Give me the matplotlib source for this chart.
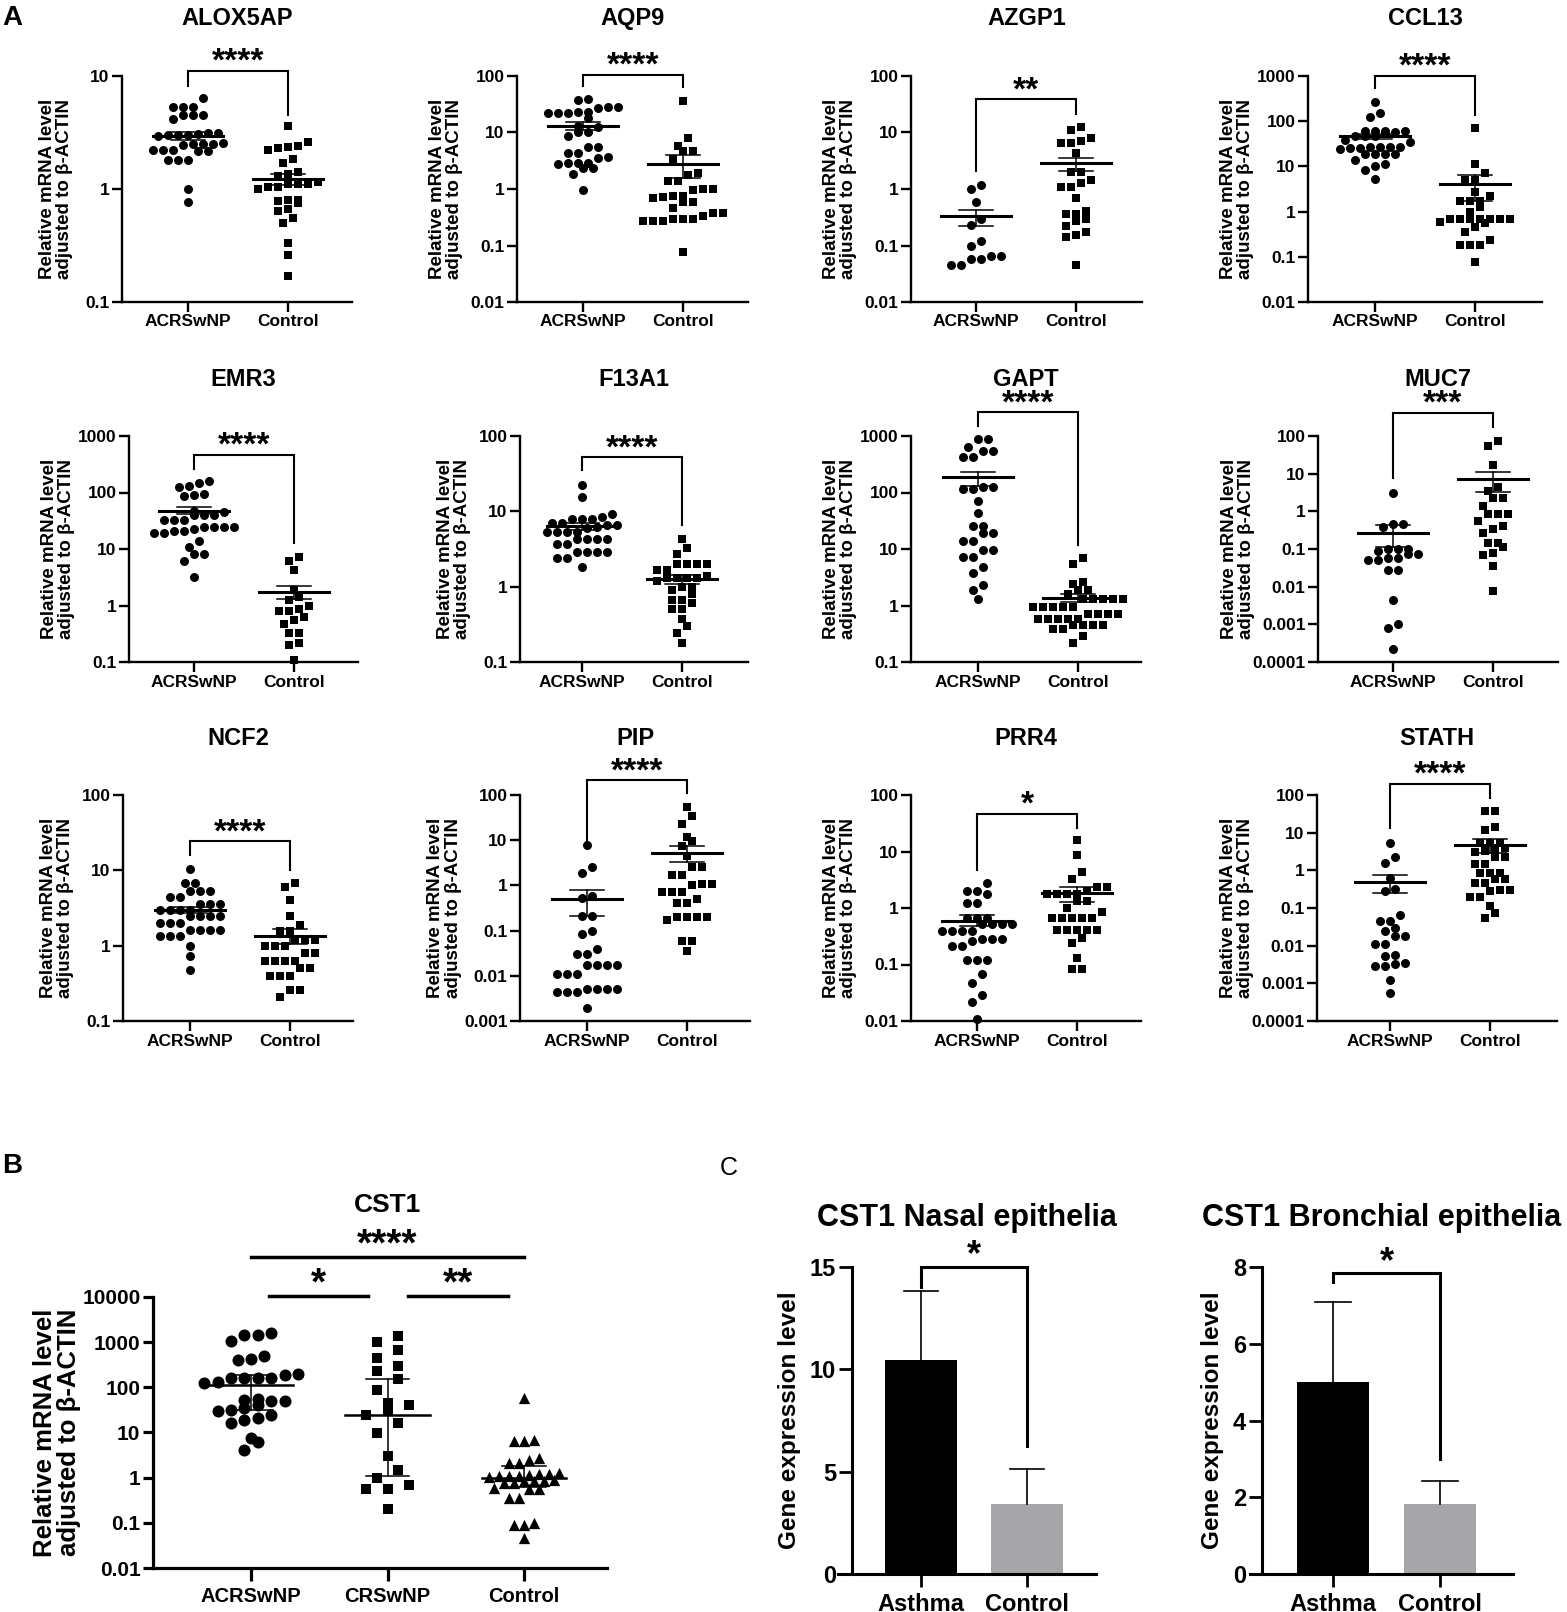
import numpy as np
import matplotlib
matplotlib.use("Agg")
import matplotlib.pyplot as plt
from matplotlib.ticker import FixedLocator, NullLocator
from matplotlib.transforms import blended_transform_factory

plt.rcParams["font.family"] = ["Liberation Sans", "DejaVu Sans"]
plt.rcParams["font.weight"] = "bold"

# -----------------------------
# Data
# -----------------------------
groups_a = ["ACRSwNP", "Control"]

alox5ap_acrs = [6.35, 5.3, 5.3, 5.3, 4.5, 4.5, 4.5, 4.2, 3.1, 3.0, 3.0, 3.05, 2.95, 3.0, 3.1,
                2.5, 2.5, 2.55, 2.5, 2.45, 2.2, 2.15, 2.2, 2.2, 2.15, 1.8, 1.8, 1.8, 1.0, 0.77]
alox5ap_ctrl = [3.6, 2.6, 2.4, 2.35, 2.3, 2.2, 1.85, 1.7, 1.4, 1.35, 1.3, 1.15, 1.1, 1.1, 1.05,
                1.05, 1.1, 1.0, 0.8, 0.8, 0.78, 0.75, 0.66, 0.64, 0.55, 0.5, 0.33, 0.26, 0.17]
aqp9_acrs = [38.7, 37, 28.7, 28, 27, 22.8, 22.8, 22.5, 22.5, 22, 17.9, 13, 12.5, 10.4, 10.2,
             8.7, 5.6, 5.5, 4.4, 4.3, 3.7, 3.6, 2.9, 2.9, 2.9, 2.8, 2.4, 2.4, 1.85, 0.96]
aqp9_ctrl = [36.6, 8.1, 5.8, 4.8, 4.7, 3.4, 1.9, 1.8, 1.4, 1.4, 1.0, 1.0, 0.95, 0.75, 0.75,
             0.72, 0.7, 0.6, 0.6, 0.46, 0.38, 0.38, 0.33, 0.3, 0.3, 0.29, 0.27, 0.27, 0.27, 0.077]
azgp1_acrs = [1.18, 1.0, 0.6, 0.3, 0.226, 0.118, 0.1, 0.065, 0.065, 0.058, 0.058, 0.046, 0.046]
azgp1_ctrl = [12.7, 11.1, 8.1, 7.0, 6.6, 6.4, 4.3, 2.0, 2.0, 1.45, 1.3, 1.1, 1.1, 0.7, 0.4,
              0.36, 0.36, 0.3, 0.27, 0.22, 0.17, 0.155, 0.14, 0.045]
ccl13_acrs = [271, 149, 127, 62, 62, 62, 60, 58, 56, 46, 46, 46, 27.5, 27.5, 27.5, 27.5, 26,
              25, 24, 18.6, 18.6, 18.6, 18.6, 14, 11.5, 10, 8.4, 5.3, 35, 38]
ccl13_ctrl = [71, 11.3, 7.0, 5.0, 5.0, 2.7, 2.2, 1.7, 1.7, 1.7, 1.25, 0.7, 0.7, 0.7, 0.7, 0.7,
              0.7, 0.7, 0.55, 0.45, 0.36, 0.23, 0.18, 0.18, 0.18, 0.077, 1.0, 0.6]
emr3_acrs = [158, 150, 132, 127, 94, 90, 85, 47, 45, 40, 40, 40, 32, 32, 32, 25, 25, 25, 25,
             23, 21, 21, 19, 19, 14, 10.9, 8, 8, 6.2, 3.2]
emr3_ctrl = [7.2, 6.1, 4.2, 1.85, 1.4, 1.25, 1.0, 0.85, 0.8, 0.8, 0.63, 0.55, 0.48, 0.32, 0.32,
             0.22, 0.2, 0.11]
f13a1_acrs = [22.6, 15.4, 9.2, 8.5, 7.9, 7.9, 7.9, 7.0, 7.0, 6.5, 6.5, 6.2, 6.0, 5.3, 5.3, 5.3,
              5.3, 4.3, 4.3, 4.3, 4.3, 3.7, 3.7, 2.85, 2.85, 2.85, 2.85, 2.4, 2.4, 1.8]
f13a1_ctrl = [4.3, 3.3, 2.7, 2.0, 2.0, 2.0, 2.0, 1.66, 1.66, 1.4, 1.3, 1.3, 1.3, 1.3, 1.2, 1.0,
              1.0, 0.9, 0.8, 0.66, 0.66, 0.6, 0.5, 0.5, 0.37, 0.3, 0.24, 0.18]
gapt_acrs = [885, 880, 630, 550, 550, 420, 420, 125, 125, 116, 116, 72, 43, 26, 26, 19, 19, 14,
             14, 9.6, 9.6, 7.2, 7.2, 4.8, 3.8, 2.3, 1.9, 1.3]
gapt_ctrl = [7.0, 5.5, 2.6, 2.4, 1.9, 1.9, 1.6, 1.3, 1.3, 1.3, 1.3, 1.3, 0.95, 0.95, 0.95, 0.95,
             0.95, 0.72, 0.72, 0.72, 0.72, 0.57, 0.57, 0.57, 0.57, 0.57, 0.46, 0.46, 0.46, 0.46,
             0.38, 0.38, 0.29, 0.22]
muc7_acrs = [3.15, 0.47, 0.45, 0.39, 0.1, 0.1, 0.1, 0.088, 0.073, 0.073, 0.057, 0.057, 0.05,
             0.05, 0.028, 0.028, 0.0045, 0.001, 0.0008, 0.00022]
muc7_ctrl = [73, 54, 17, 4.4, 3.4, 2.3, 2.2, 1.4, 0.86, 0.86, 0.86, 0.55, 0.41, 0.35, 0.27, 0.14,
             0.14, 0.11, 0.08, 0.07, 0.035, 0.0075]
ncf2_acrs = [10.4, 6.8, 6.8, 5.3, 5.3, 5.3, 4.4, 4.4, 3.6, 3.6, 3.6, 3.0, 3.0, 3.0, 3.0, 2.5, 2.5,
             2.5, 2.5, 2.0, 2.0, 2.0, 1.6, 1.6, 1.6, 1.6, 1.35, 1.35, 1.35, 1.0, 0.72, 0.48]
ncf2_ctrl = [6.8, 6.1, 4.1, 2.5, 1.9, 1.55, 1.55, 1.2, 1.2, 1.2, 0.98, 0.98, 0.98, 0.8, 0.8, 0.62,
             0.62, 0.62, 0.62, 0.5, 0.5, 0.4, 0.4, 0.4, 0.26, 0.26, 0.21]
pip_acrs = [8, 2.6, 1.9, 0.58, 0.53, 0.21, 0.21, 0.1, 0.083, 0.039, 0.03, 0.03, 0.017, 0.017,
            0.017, 0.017, 0.011, 0.011, 0.011, 0.005, 0.005, 0.005, 0.005, 0.0044, 0.0044,
            0.0044, 0.0019]
pip_ctrl = [54, 34, 23, 12, 9.5, 7.4, 4.4, 2.5, 2.5, 1.7, 1.7, 1.1, 1.1, 1.0, 0.7, 0.7, 0.7, 0.5,
            0.4, 0.4, 0.2, 0.2, 0.2, 0.2, 0.17, 0.06, 0.06, 0.036]
prr4_acrs = [2.8, 2.0, 2.0, 1.8, 1.25, 1.25, 0.67, 0.67, 0.67, 0.52, 0.52, 0.52, 0.52, 0.39, 0.39,
             0.39, 0.39, 0.26, 0.28, 0.28, 0.28, 0.21, 0.21, 0.12, 0.12, 0.12, 0.067, 0.047,
             0.029, 0.022, 0.011]
prr4_ctrl = [16, 8.8, 4.4, 3.2, 2.4, 2.4, 2.0, 1.8, 1.8, 1.8, 1.8, 1.35, 1.35, 1.0, 0.85, 0.67,
             0.67, 0.67, 0.67, 0.67, 0.4, 0.4, 0.4, 0.4, 0.4, 0.29, 0.24, 0.13, 0.082, 0.082]
stath_acrs = [5.3, 2.2, 1.6, 0.63, 0.31, 0.28, 0.067, 0.045, 0.045, 0.03, 0.025, 0.018, 0.018,
              0.011, 0.011, 0.0057, 0.0052, 0.0035, 0.0032, 0.0029, 0.0029, 0.0012, 0.00056]
stath_ctrl = [37, 37, 14, 12, 5.3, 5.3, 5.3, 4.0, 3.2, 3.2, 3.0, 2.2, 2.2, 1.5, 1.5, 0.85, 0.85,
              0.85, 0.58, 0.58, 0.45, 0.45, 0.3, 0.3, 0.28, 0.2, 0.2, 0.11, 0.074, 0.055]

# mean and SEM (low, high) per group, as drawn
means_a = {"ALOX5AP": [2.95, 1.22], "AQP9": [13.2, 2.79], "AZGP1": [0.33, 2.86],
           "CCL13": [47, 4.1], "EMR3": [47.9, 1.73], "F13A1": [6.3, 1.27],
           "GAPT": [186, 1.37], "MUC7": [0.274, 7.4], "NCF2": [2.95, 1.34],
           "PIP": [0.51, 5.2], "PRR4": [0.6, 1.85], "STATH": [0.49, 4.8]}
sem_lo_a = {"ALOX5AP": [2.7, 1.08], "AQP9": [11.2, 1.55], "AZGP1": [0.22, 2.1],
            "CCL13": [41, 1.75], "EMR3": [42, 1.3], "F13A1": [5.7, 1.1],
            "GAPT": [133, 1.15], "MUC7": [0.11, 3.2], "NCF2": [2.7, 1.04],
            "PIP": [0.21, 3.3], "PRR4": [0.48, 1.27], "STATH": [0.25, 2.9]}
sem_hi_a = {"ALOX5AP": [3.2, 1.37], "AQP9": [15.5, 4.0], "AZGP1": [0.43, 3.6],
            "CCL13": [52.5, 6.5], "EMR3": [55, 2.2], "F13A1": [7.0, 1.44],
            "GAPT": [228, 1.6], "MUC7": [0.44, 11.4], "NCF2": [3.3, 1.64],
            "PIP": [0.81, 7.4], "PRR4": [0.74, 2.4], "STATH": [0.74, 6.6]}
# significance bracket: top, left leg end, right leg end
brackets_a = {"ALOX5AP": [11.1, 8.2, 4.5], "AQP9": [104, 66, 63], "AZGP1": [38.7, 2.1, 21],
              "CCL13": [1000, 535, 137], "EMR3": [468, 261, 12.7], "F13A1": [52, 35, 6.5],
              "GAPT": [2620, 1520, 12], "MUC7": [415, 7.5, 177], "NCF2": [24.3, 16.2, 10.2],
              "PIP": [211, 8.7, 110], "PRR4": [46.8, 4.8, 26], "STATH": [200, 13.3, 83]}
stars_a = {"ALOX5AP": "****", "AQP9": "****", "AZGP1": "**", "CCL13": "****",
           "EMR3": "****", "F13A1": "****", "GAPT": "****", "MUC7": "***",
           "NCF2": "****", "PIP": "****", "PRR4": "*", "STATH": "****"}
ylims_a = {"ALOX5AP": (0.1, 10), "AQP9": (0.01, 100), "AZGP1": (0.01, 100),
           "CCL13": (0.01, 1000), "EMR3": (0.1, 1000), "F13A1": (0.1, 100),
           "GAPT": (0.1, 1000), "MUC7": (0.0001, 100), "NCF2": (0.1, 100),
           "PIP": (0.001, 100), "PRR4": (0.01, 100), "STATH": (0.0001, 100)}

# Panel B - CST1
groups_b = ["ACRSwNP", "CRSwNP", "Control"]
cst1_acrs = [1600, 1450, 1450, 1040, 485, 420, 395, 200, 190, 165, 160, 160, 160, 128, 125,
             55, 53, 50, 50, 40, 34, 32, 30, 25, 21, 19, 16, 7.5, 6.3, 4.2]
cst1_crs = [1390, 1010, 680, 450, 290, 230, 150, 88, 45, 40, 32, 25, 16, 9.7, 3.0, 1.5, 1.0,
            0.7, 0.55, 0.55, 0.2]
cst1_ctrl = [58, 6.9, 6.4, 6.4, 2.7, 2.5, 2.1, 2.1, 1.3, 1.2, 1.2, 1.15, 1.1, 1.1, 1.1, 1.05,
             0.9, 0.85, 0.85, 0.85, 0.75, 0.75, 0.58, 0.55, 0.55, 0.36, 0.36, 0.1, 0.09, 0.09,
             0.047]
cst1_mean = [115, 24, 1.0]
cst1_lo = [32, 1.1, 0.63]
cst1_hi = [184, 152, 1.8]
cst1_sig = [("****", 0.0, 2.0, 76000), ("*", 0.13, 0.86, 10500), ("**", 1.15, 1.88, 10500)]

# Panel C - bar charts
groups_c = ["Asthma", "Control"]
nasal_mean = [10.45, 3.43]
nasal_err = [13.85, 5.15]
nasal_bracket = [15.0, 14.0, 6.27]
bronch_mean = [5.0, 1.82]
bronch_err = [7.1, 2.42]
bronch_bracket = [7.84, 7.6, 3.0]

# -----------------------------
# Figure and helpers
# -----------------------------
W, H = 1567, 1612
fig = plt.figure(figsize=(W / 100, H / 100), dpi=100)


def px_axes(left, top, width, height):
    return fig.add_axes([left / W, 1 - (top + height) / H, width / W, height / H])


def row_offsets(ys, dx, dy):
    # GraphPad-like layout: points close in y share a row, rows are centred
    order = np.argsort(ys)
    rows = []
    for i in order:
        if rows and ys[i] - ys[rows[-1][0]] < dy:
            rows[-1].append(i)
        else:
            rows.append([i])
    xs = np.zeros(len(ys))
    for r in rows:
        offs = (np.arange(len(r)) - (len(r) - 1) / 2) * dx
        for k, i in enumerate(r):
            xs[i] = offs[k]
    return xs


def swarm(ax, x0, vals, dx, dy, **kw):
    vals = np.asarray(vals, dtype=float)
    pts = ax.transData.transform(np.column_stack([np.full(len(vals), x0), vals]))
    ppu = ax.transData.transform((1, 1))[0] - ax.transData.transform((0, 1))[0]
    off = row_offsets(pts[:, 1], dx, dy)
    ax.scatter(x0 + off / ppu, vals, clip_on=False, zorder=3, linewidths=0, **kw)


def log_axis(ax, ylim, fs, ticklen, spw):
    ax.set_yscale("log")
    ax.set_ylim(*ylim)
    lo, hi = np.log10(ylim[0]), np.log10(ylim[1])
    ticks = 10.0 ** np.arange(round(lo), round(hi) + 1)
    labels = [f"{t:g}" for t in ticks]
    ax.yaxis.set_major_locator(FixedLocator(ticks))
    ax.yaxis.set_minor_locator(NullLocator())
    ax.set_yticklabels(labels, fontsize=fs, fontweight="bold")
    for s in ["top", "right"]:
        ax.spines[s].set_visible(False)
    for s in ["left", "bottom"]:
        ax.spines[s].set_linewidth(spw)
    ax.tick_params(axis="both", length=ticklen, width=spw, pad=2)
    return max(len(t) for t in labels)


def dot_panel(name, acrs, ctrl, left, top, width, g0):
    ax = px_axes(left, top, width, 226)
    ax.set_xlim(-g0 / 100, (width - g0) / 100)
    nchar = log_axis(ax, ylims_a[name], 12.5, 7, 1.7)
    ax.set_xticks([0, 1])
    ax.set_xticklabels(groups_a, fontsize=12.5, fontweight="bold")
    swarm(ax, 0, acrs, 10, 9, marker="o", s=42, color="black")
    swarm(ax, 1, ctrl, 10, 9, marker="s", s=38, color="black")
    m, lo, hi = means_a[name], sem_lo_a[name], sem_hi_a[name]
    for g in range(2):
        ax.plot([g - 0.35, g + 0.35], [m[g], m[g]], color="black", lw=2.2, zorder=4)
        ax.plot([g, g], [lo[g], hi[g]], color="black", lw=1.1, zorder=4)
        for v in (lo[g], hi[g]):
            ax.plot([g - 0.17, g + 0.17], [v, v], color="black", lw=1.1, zorder=4)
    top_v, l_end, r_end = brackets_a[name]
    ax.plot([0, 0, 1, 1], [l_end, top_v, top_v, r_end], color="black", lw=1.5,
            clip_on=False, solid_joinstyle="miter")
    ax.annotate(stars_a[name], xy=(0.5, top_v), xytext=(0, 0), textcoords="offset points",
                ha="center", va="baseline", fontsize=24, annotation_clip=False)
    ax.text(0.5, 1 + 57 / 226, name, transform=ax.transAxes, ha="center", va="center",
            fontsize=17, fontweight="bold")
    ax.set_ylabel("Relative mRNA level\nadjusted to β-ACTIN", fontsize=13.5,
                  fontweight="bold", linespacing=1.0)
    ax.yaxis.set_label_coords(-(35 + 4.7 * nchar) / width, 0.5)
    return ax


# panel A layout: left, top, width, group-0 offset (pixels)
layout_a = [
    ("ALOX5AP", alox5ap_acrs, alox5ap_ctrl, 122, 76, 230, 66),
    ("AQP9", aqp9_acrs, aqp9_ctrl, 517, 76, 231, 66),
    ("AZGP1", azgp1_acrs, azgp1_ctrl, 911, 76, 231, 65),
    ("CCL13", ccl13_acrs, ccl13_ctrl, 1308, 76, 234, 67),
    ("EMR3", emr3_acrs, emr3_ctrl, 129, 436, 229, 65),
    ("F13A1", f13a1_acrs, f13a1_ctrl, 520, 436, 228, 62),
    ("GAPT", gapt_acrs, gapt_ctrl, 911, 436, 230, 67),
    ("MUC7", muc7_acrs, muc7_ctrl, 1318, 436, 240, 75),
    ("NCF2", ncf2_acrs, ncf2_ctrl, 123, 795, 230, 67),
    ("PIP", pip_acrs, pip_ctrl, 520, 795, 230, 67),
    ("PRR4", prr4_acrs, prr4_ctrl, 911, 795, 230, 66),
    ("STATH", stath_acrs, stath_ctrl, 1317, 795, 240, 73),
]
for name, a, c, left, top, width, g0 in layout_a:
    dot_panel(name, a, c, left, top, width, g0)

# -----------------------------
# Panel B
# -----------------------------
b_left, b_right, b_g0, b_gap = 153, 607, 251, 136.5
axb = px_axes(b_left, 1297, b_right - b_left, 271)
axb.set_xlim((b_left - b_g0) / b_gap, (b_right - b_g0) / b_gap)
log_axis(axb, (0.01, 10000), 15, 7, 2.3)
axb.tick_params(axis="x", length=9, pad=5)
axb.set_xticks([0, 1, 2])
axb.set_xticklabels(groups_b, fontsize=14.5, fontweight="bold")
swarm(axb, 0, cst1_acrs, 13.4, 11, marker="o", s=75, color="black")
swarm(axb, 1, cst1_crs, 21.5, 11, marker="s", s=60, color="black")
swarm(axb, 2, cst1_ctrl, 9.9, 9, marker="^", s=66, color="black")
for g in range(3):
    axb.plot([g - 0.31, g + 0.31], [cst1_mean[g]] * 2, color="black", lw=1.8, zorder=4)
    axb.plot([g, g], [cst1_lo[g], cst1_hi[g]], color="black", lw=1.1, zorder=4)
    for v in (cst1_lo[g], cst1_hi[g]):
        axb.plot([g - 0.16, g + 0.16], [v, v], color="black", lw=1.1, zorder=4)
for txt, x1, x2, yv in cst1_sig:
    axb.plot([x1, x2], [yv, yv], color="black", lw=2.5, clip_on=False)
    axb.annotate(txt, xy=((x1 + x2) / 2, yv), xytext=(0, 1), textcoords="offset points",
                 ha="center", va="baseline", fontsize=28, annotation_clip=False)
tb = blended_transform_factory(axb.transData, axb.transAxes)
axb.text(1, 1 + 92 / 271, "CST1", transform=tb, ha="center", va="center", fontsize=19,
         fontweight="bold")
axb.set_ylabel("Relative mRNA level\nadjusted to β-ACTIN", fontsize=18.5, fontweight="bold",
               linespacing=1.0)
axb.yaxis.set_label_coords(-72 / (b_right - b_left), 0.5)

# -----------------------------
# Panel C
# -----------------------------


def bar_panel(title, means, errs, bracket, ylim, yticks, xstart, yaxis, g0, gap, xend):
    ax = px_axes(xstart, 1267, xend - xstart, 307)
    ax.set_xlim((xstart - g0) / gap, (xend - g0) / gap)
    ax.set_ylim(*ylim)
    ax.spines["left"].set_position(("data", (yaxis - g0) / gap))
    for s in ["top", "right"]:
        ax.spines[s].set_visible(False)
    for s in ["left", "bottom"]:
        ax.spines[s].set_linewidth(2.2)
    ax.set_yticks(yticks)
    ax.set_yticklabels([str(t) for t in yticks], fontsize=17, fontweight="bold")
    ax.set_xticks([0, 1])
    ax.set_xticklabels(groups_c, fontsize=17, fontweight="bold")
    ax.tick_params(axis="both", length=9.5, width=2.0)
    ax.tick_params(axis="x", pad=4)
    ax.tick_params(axis="y", pad=2)
    ax.bar([0, 1], means, width=0.67, color=["black", "#a6a6a9"], zorder=2)
    for g in range(2):
        ax.plot([g, g], [means[g], errs[g]], color="black", lw=1.2, zorder=3)
        ax.plot([g - 0.165, g + 0.165], [errs[g], errs[g]], color="black", lw=1.2, zorder=3)
    top_v, l_end, r_end = bracket
    ax.plot([0, 0, 1, 1], [l_end, top_v, top_v, r_end], color="black", lw=2.2,
            clip_on=False, solid_joinstyle="miter")
    ax.annotate("*", xy=(0.5, top_v), xytext=(0, 1), textcoords="offset points",
                ha="center", va="baseline", fontsize=26, annotation_clip=False)
    ax.text(0.5, 1 + 49 / 307, title, transform=ax.transAxes, ha="center", va="center",
            fontsize=22, fontweight="bold")
    ax.set_ylabel("Gene expression level", fontsize=17.5, fontweight="bold", labelpad=6)
    return ax


axn = bar_panel("CST1 Nasal epithelia", nasal_mean, nasal_err, nasal_bracket, (0, 15),
                [0, 5, 10, 15], 838, 852, 921, 106, 1096)
axr = bar_panel("CST1 Bronchial epithelia", bronch_mean, bronch_err, bronch_bracket, (0, 8),
                [0, 2, 4, 6, 8], 1250, 1262, 1333, 107, 1513)

# panel letters
fig.text(2 / W, 1 - 25 / H, "A", fontsize=20, fontweight="bold", va="baseline")
fig.text(2 / W, 1 - 1173 / H, "B", fontsize=20, fontweight="bold", va="baseline")
fig.text(720 / W, 1 - 1175 / H, "C", fontsize=18, fontweight="normal", va="baseline")

fig.savefig("out.png", dpi=100)
